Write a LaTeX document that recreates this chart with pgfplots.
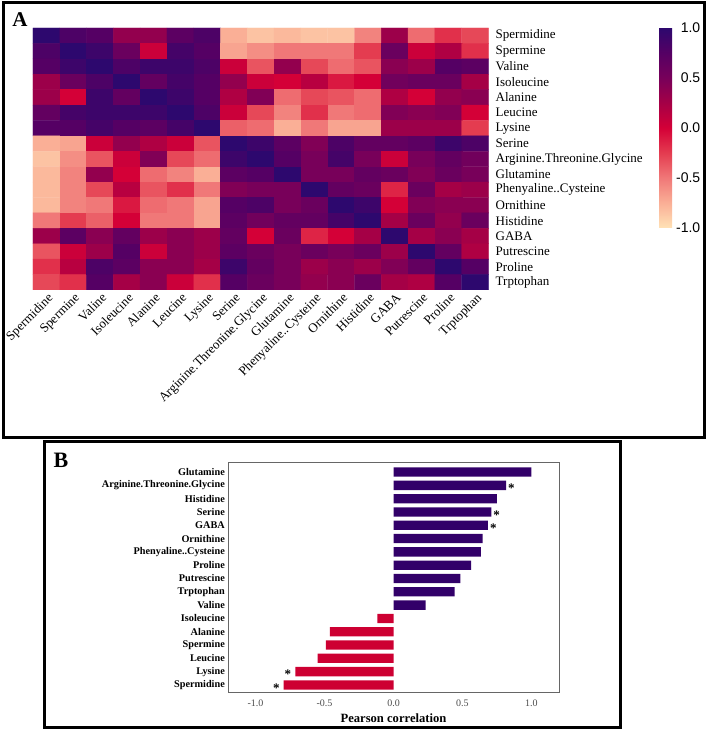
\documentclass[border=0pt]{standalone}
\usepackage{fontspec}
\setmainfont{Liberation Serif}
\newfontfamily\arialfont{Liberation Sans}
\usepackage{pgfplots}
\pgfplotsset{compat=1.18}

\definecolor{barpos}{RGB}{50,0,105}
\definecolor{barneg}{RGB}{205,0,50}

\begin{document}
\begin{tikzpicture}
\path[use as bounding box] (0pt,0pt) rectangle (708pt,731pt);
% panel frames and letters
\draw[line width=3pt] (3.5pt,728.5pt) rectangle (704pt,293.5pt);
\draw[line width=3pt] (44pt,289pt) rectangle (620pt,3.5pt);
\node[font=\fontsize{21}{21}\selectfont\bfseries] at (20pt,711pt) {A};
\node[font=\fontsize{22}{22}\selectfont\bfseries] at (61pt,271pt) {B};

% ---- A: correlation heatmap ----
\begin{axis}[
  at={(33pt,703pt)}, anchor=north west,
  scale only axis, width=455.5pt, height=262pt,
  xmin=-0.5, xmax=16.5, ymin=-0.5, ymax=16.5, enlargelimits=false,
  xtick={0,...,16}, ytick={0,...,16},
  xticklabels={Spermidine,Spermine,Valine,Isoleucine,Alanine,Leucine,Lysine,Serine,Arginine.Threonine.Glycine,Glutamine,Phenyaline..Cysteine,Ornithine,Histidine,GABA,Putrescine,Proline,Trptophan},
  yticklabels={Trptophan,Proline,Putrescine,GABA,Histidine,Ornithine,Phenyaline..Cysteine,Glutamine,Arginine.Threonine.Glycine,Serine,Lysine,Leucine,Alanine,Isoleucine,Valine,Spermine,Spermidine},
  yticklabel pos=right,
  major tick length=0pt,
  axis line style={draw=none},
  xticklabel style={rotate=45, anchor=north east, font=\fontsize{13}{13}\selectfont, inner sep=1pt, yshift=-1pt},
  yticklabel style={font=\fontsize{13}{13}\selectfont, anchor=west, inner sep=2pt, xshift=5pt},
  colormap={corr}{rgb255(0cm)=(255,226,182); rgb255(1cm)=(250,175,150); rgb255(2cm)=(240,120,120); rgb255(3cm)=(228,60,80); rgb255(4cm)=(212,0,55); rgb255(5cm)=(165,0,70); rgb255(6cm)=(120,0,90); rgb255(7cm)=(85,0,100); rgb255(8cm)=(45,8,110)},
  point meta min=-1, point meta max=1,
  colorbar,
  colorbar style={
    at={(parent axis.north east)}, anchor=north west, xshift=162pt,
    scale only axis, width=13pt, height=200pt,
    ytick={-1,-0.5,0,0.5,1}, yticklabels={-1.0,-0.5,0.0,0.5,1.0},
    yticklabel style={font=\arialfont\fontsize{14}{14}\selectfont, text width=27pt, align=right, inner sep=1pt},
    major tick length=0pt, axis line style={draw=none},
  },
]
\addplot[matrix plot*, mesh/cols=17, point meta=explicit] coordinates {
(0,16)[1.0] (1,16)[0.8] (2,16)[0.75] (3,16)[0.35] (4,16)[0.35] (5,16)[0.7] (6,16)[0.8] (7,16)[-0.75] (8,16)[-0.85] (9,16)[-0.8] (10,16)[-0.85] (11,16)[-0.85] (12,16)[-0.55] (13,16)[0.3] (14,16)[-0.45] (15,16)[-0.2] (16,16)[-0.3]

(0,15)[0.8] (1,15)[1.0] (2,15)[0.9] (3,15)[0.6] (4,15)[0.05] (5,15)[0.85] (6,15)[0.75] (7,15)[-0.7] (8,15)[-0.6] (9,15)[-0.5] (10,15)[-0.5] (11,15)[-0.5] (12,15)[-0.25] (13,15)[0.6] (14,15)[0.05] (15,15)[0.2] (16,15)[-0.2]

(0,14)[0.75] (1,14)[0.9] (2,14)[1.0] (3,14)[0.8] (4,14)[0.9] (5,14)[0.9] (6,14)[0.8] (7,14)[0.05] (8,14)[-0.35] (9,14)[0.35] (10,14)[-0.3] (11,14)[-0.45] (12,14)[-0.35] (13,14)[0.4] (14,14)[0.3] (15,14)[0.75] (16,14)[0.7]

(0,13)[0.3] (1,13)[0.6] (2,13)[0.8] (3,13)[1.0] (4,13)[0.65] (5,13)[0.85] (6,13)[0.75] (7,13)[0.35] (8,13)[0.05] (9,13)[0.0] (10,13)[0.15] (11,13)[-0.1] (12,13)[0.0] (13,13)[0.55] (14,13)[0.6] (15,13)[0.6] (16,13)[0.25]

(0,12)[0.3] (1,12)[0.0] (2,12)[0.9] (3,12)[0.65] (4,12)[1.0] (5,12)[0.9] (6,12)[0.75] (7,12)[0.2] (8,12)[0.45] (9,12)[-0.45] (10,12)[-0.3] (11,12)[-0.35] (12,12)[-0.45] (13,12)[0.2] (14,12)[0.0] (15,12)[0.35] (16,12)[0.4]

(0,11)[0.65] (1,11)[0.85] (2,11)[0.9] (3,11)[0.9] (4,11)[0.9] (5,11)[1.0] (6,11)[0.8] (7,11)[0.05] (8,11)[-0.3] (9,11)[-0.55] (10,11)[-0.2] (11,11)[-0.5] (12,11)[-0.45] (13,11)[0.45] (14,11)[0.4] (15,11)[0.45] (16,11)[0.0]

(0,10)[0.75] (1,10)[0.75] (2,10)[0.85] (3,10)[0.75] (4,10)[0.7] (5,10)[0.85] (6,10)[1.0] (7,10)[-0.4] (8,10)[-0.45] (9,10)[-0.75] (10,10)[-0.5] (11,10)[-0.7] (12,10)[-0.7] (13,10)[0.3] (14,10)[0.3] (15,10)[0.3] (16,10)[-0.25]

(0,9)[-0.75] (1,9)[-0.7] (2,9)[0.05] (3,9)[0.35] (4,9)[0.2] (5,9)[0.05] (6,9)[-0.35] (7,9)[1.0] (8,9)[0.9] (9,9)[0.7] (10,9)[0.45] (11,9)[0.8] (12,9)[0.65] (13,9)[0.65] (14,9)[0.7] (15,9)[0.9] (16,9)[0.8]

(0,8)[-0.85] (1,8)[-0.6] (2,8)[-0.35] (3,8)[0.05] (4,8)[0.45] (5,8)[-0.3] (6,8)[-0.45] (7,8)[0.9] (8,8)[1.0] (9,8)[0.75] (10,8)[0.5] (11,8)[0.85] (12,8)[0.5] (13,8)[0.05] (14,8)[0.5] (15,8)[0.65] (16,8)[0.55]

(0,7)[-0.8] (1,7)[-0.55] (2,7)[0.35] (3,7)[0.0] (4,7)[-0.45] (5,7)[-0.55] (6,7)[-0.75] (7,7)[0.7] (8,7)[0.75] (9,7)[1.0] (10,7)[0.5] (11,7)[0.5] (12,7)[0.65] (13,7)[0.6] (14,7)[0.45] (15,7)[0.6] (16,7)[0.5]

(0,6)[-0.8] (1,6)[-0.55] (2,6)[-0.3] (3,6)[0.15] (4,6)[-0.35] (5,6)[-0.2] (6,6)[-0.5] (7,6)[0.45] (8,6)[0.5] (9,6)[0.5] (10,6)[1.0] (11,6)[0.65] (12,6)[0.6] (13,6)[-0.15] (14,6)[0.6] (15,6)[0.25] (16,6)[0.3]

(0,5)[-0.8] (1,5)[-0.55] (2,5)[-0.5] (3,5)[-0.1] (4,5)[-0.45] (5,5)[-0.5] (6,5)[-0.7] (7,5)[0.75] (8,5)[0.8] (9,5)[0.5] (10,5)[0.6] (11,5)[1.0] (12,5)[0.9] (13,5)[0.0] (14,5)[0.45] (15,5)[0.4] (16,5)[0.4]

(0,4)[-0.5] (1,4)[-0.25] (2,4)[-0.4] (3,4)[0.0] (4,4)[-0.5] (5,4)[-0.5] (6,4)[-0.7] (7,4)[0.7] (8,4)[0.55] (9,4)[0.65] (10,4)[0.65] (11,4)[0.85] (12,4)[1.0] (13,4)[0.25] (14,4)[0.6] (15,4)[0.35] (16,4)[0.6]

(0,3)[0.3] (1,3)[0.7] (2,3)[0.4] (3,3)[0.65] (4,3)[0.3] (5,3)[0.4] (6,3)[0.3] (7,3)[0.65] (8,3)[0.0] (9,3)[0.6] (10,3)[-0.15] (11,3)[0.0] (12,3)[0.25] (13,3)[1.0] (14,3)[0.25] (15,3)[0.4] (16,3)[0.25]

(0,2)[-0.35] (1,2)[0.05] (2,2)[0.3] (3,2)[0.75] (4,2)[0.05] (5,2)[0.4] (6,2)[0.3] (7,2)[0.7] (8,2)[0.6] (9,2)[0.5] (10,2)[0.6] (11,2)[0.5] (12,2)[0.6] (13,2)[0.3] (14,2)[1.0] (15,2)[0.65] (16,2)[0.2]

(0,1)[-0.2] (1,1)[0.15] (2,1)[0.8] (3,1)[0.7] (4,1)[0.4] (5,1)[0.4] (6,1)[0.25] (7,1)[0.9] (8,1)[0.65] (9,1)[0.5] (10,1)[0.3] (11,1)[0.4] (12,1)[0.3] (13,1)[0.45] (14,1)[0.65] (15,1)[1.0] (16,1)[0.75]

(0,0)[-0.3] (1,0)[-0.2] (2,0)[0.75] (3,0)[0.25] (4,0)[0.4] (5,0)[0.05] (6,0)[-0.2] (7,0)[0.75] (8,0)[0.6] (9,0)[0.5] (10,0)[0.35] (11,0)[0.4] (12,0)[0.6] (13,0)[0.25] (14,0)[0.2] (15,0)[0.75] (16,0)[1.0]
};
\end{axis}

% ---- B: Pearson correlation bars ----
\begin{axis}[
  at={(228pt,268pt)}, anchor=north west,
  scale only axis, width=331pt, height=229pt,
  xbar, bar width=9.3pt, bar shift=0pt,
  xmin=-1.2, xmax=1.2, ymin=-0.53, ymax=16.68,
  ytick={0,...,16},
  yticklabels={Spermidine,Lysine,Leucine,Spermine,Alanine,Isoleucine,Valine,Trptophan,Putrescine,Proline,Phenyaline..Cysteine,Ornithine,GABA,Serine,Histidine,Arginine.Threonine.Glycine,Glutamine},
  xtick={-1,-0.5,0,0.5,1}, xticklabels={-1.0,-0.5,0.0,0.5,1.0},
  major tick length=0pt,
  axis line style={draw=black!60, line width=1pt},
  yticklabel style={font=\fontsize{10.25}{10.25}\selectfont\bfseries, inner sep=3pt},
  xticklabel style={font=\fontsize{10}{10}\selectfont, text=black!70, inner sep=4pt, yshift=-4pt},
  xlabel={Pearson correlation},
  xlabel style={font=\fontsize{12.6}{12.6}\selectfont\bfseries, yshift=1pt},
]
\addplot[fill=barpos, draw=none] coordinates {
  (1.0,16) (0.816,15) (0.75,14) (0.709,13) (0.684,12) (0.646,11)
  (0.633,10) (0.563,9) (0.485,8) (0.444,7) (0.233,6)};
\addplot[fill=barneg, draw=none] coordinates {
  (-0.117,5) (-0.461,4) (-0.49,3) (-0.551,2) (-0.711,1) (-0.796,0)};
% significance stars
\node[anchor=west, font=\fontsize{13}{13}\selectfont\bfseries, yshift=-3pt, inner sep=2pt] at (axis cs:0.816,15) {*};
\node[anchor=west, font=\fontsize{13}{13}\selectfont\bfseries, yshift=-3pt, inner sep=2pt] at (axis cs:0.709,13) {*};
\node[anchor=west, font=\fontsize{13}{13}\selectfont\bfseries, yshift=-3pt, inner sep=2pt] at (axis cs:0.684,12) {*};
\node[anchor=east, font=\fontsize{13}{13}\selectfont\bfseries, yshift=-3pt, inner sep=4pt] at (axis cs:-0.711,1) {*};
\node[anchor=east, font=\fontsize{13}{13}\selectfont\bfseries, yshift=-3pt, inner sep=4pt] at (axis cs:-0.796,0) {*};
\end{axis}
\end{tikzpicture}
\end{document}
